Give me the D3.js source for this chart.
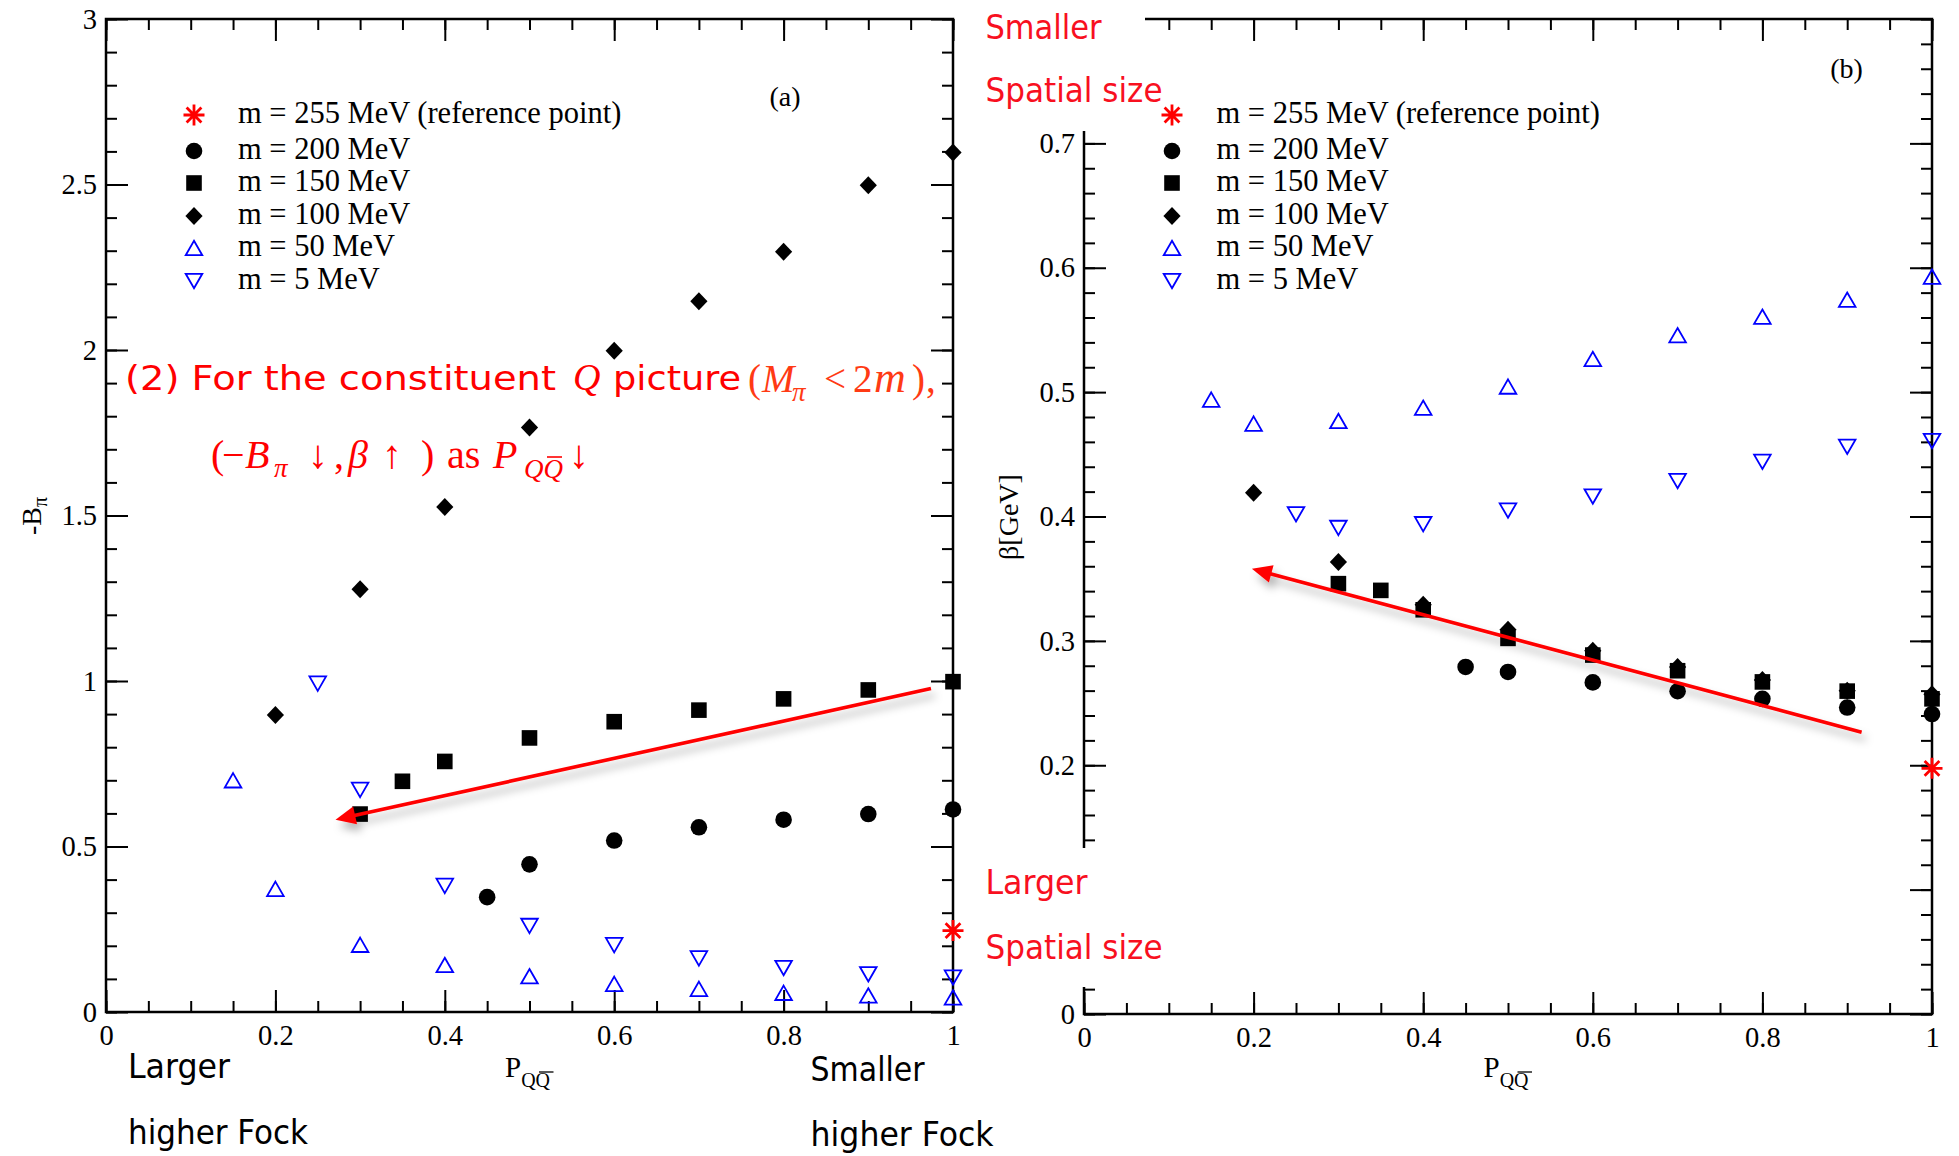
<!DOCTYPE html>
<html>
<head>
<meta charset="utf-8">
<script src="https://cdn.jsdelivr.net/npm/d3@7"></script>
<style>
  body { margin: 0; background: #fff; }
  svg { display: block; }
</style>
</head>
<body>
<script>
// ---- data ----
// x values (P_QQbar) are shared by both panels
var refP  = [1.0];
var m200P = [0.45, 0.5, 0.6, 0.7, 0.8, 0.9, 1.0];
var m150P = [0.3, 0.35, 0.4, 0.5, 0.6, 0.7, 0.8, 0.9, 1.0];
var m100P = [0.2, 0.3, 0.4, 0.5, 0.6, 0.7, 0.8, 0.9, 1.0];
var m50P  = [0.15, 0.2, 0.3, 0.4, 0.5, 0.6, 0.7, 0.8, 0.9, 1.0];
var m5P   = [0.25, 0.3, 0.4, 0.5, 0.6, 0.7, 0.8, 0.9, 1.0];

// panel (a): -B_pi
var refB  = [0.246];
var m200B = [0.347, 0.446, 0.518, 0.558, 0.581, 0.598, 0.612];
var m150B = [0.598, 0.697, 0.757, 0.828, 0.877, 0.912, 0.946, 0.973, 0.998];
var m100B = [0.897, 1.277, 1.526, 1.766, 1.998, 2.147, 2.297, 2.498, 2.597];
var m50B  = [0.70, 0.372, 0.203, 0.142, 0.108, 0.085, 0.07, 0.058, 0.05, 0.044];
var m5B   = [0.992, 0.671, 0.381, 0.26, 0.202, 0.162, 0.133, 0.114, 0.104];

// panel (b): beta [GeV]
var refBeta  = [0.1975];
var m200Beta = [0.279, 0.275, 0.2666, 0.2595, 0.2534, 0.2464, 0.2412];
var m150Beta = [0.346, 0.3406, 0.325, 0.302, 0.2886, 0.276, 0.267, 0.2596, 0.2534];
var m100Beta = [0.419, 0.3635, 0.329, 0.309, 0.292, 0.279, 0.2685, 0.26, 0.257];
var m50Beta  = [0.494, 0.4747, 0.4768, 0.4875, 0.5045, 0.5267, 0.5458, 0.5607, 0.5743, 0.5928];
var m5Beta   = [0.4018, 0.3908, 0.3938, 0.4048, 0.4161, 0.4285, 0.444, 0.456, 0.4607];

var seriesNames  = ["m = 255 MeV (reference point)", "m = 200 MeV", "m = 150 MeV",
                    "m = 100 MeV", "m = 50 MeV", "m = 5 MeV"];
var seriesShapes = ["star", "circle", "square", "diamond", "triUp", "triDown"];

// ticks
var xMajorTicks = [0, 0.2, 0.4, 0.6, 0.8, 1];
var aYTicks = [0, 0.5, 1, 1.5, 2, 2.5, 3];
var bYTicks = [0, 0.1, 0.2, 0.3, 0.4, 0.5, 0.6, 0.7, 0.8];
var bYLabels = [0, 0.2, 0.3, 0.4, 0.5, 0.6, 0.7];   // 0.1 and 0.8 sit under the label boxes

// ---- drawing ----
var W = 1959, H = 1156;
var SERIF = "'Liberation Serif', 'Times New Roman', serif";
var NARROW = "'Liberation Sans Narrow', 'DejaVu Sans Condensed', 'Liberation Sans', sans-serif";
var RED = "#ff0000", BLUE = "#0000ff";

var svg = d3.select("body").append("svg").attr("width", W).attr("height", H);

var shadow = svg.append("defs").append("filter").attr("id", "shadow")
  .attr("x", "-20%").attr("y", "-60%").attr("width", "140%").attr("height", "220%");
shadow.append("feDropShadow").attr("dx", 4).attr("dy", 7).attr("stdDeviation", 4)
  .attr("flood-color", "#000").attr("flood-opacity", 0.3);

function shapePath(s) {
  switch (s) {
    case "star": return "M-10.5,0H10.5M0,-10.5V10.5M-7.4,-7.4L7.4,7.4M-7.4,7.4L7.4,-7.4";
    case "circle": return "M8.3,0A8.3,8.3 0 1,1 -8.3,0A8.3,8.3 0 1,1 8.3,0Z";
    case "square": return "M-7.8,-7.8H7.8V7.8H-7.8Z";
    case "diamond": return "M0,-9L8.6,0L0,9L-8.6,0Z";
    case "triUp": return "M0,-7.2L8.3,7.2L-8.3,7.2Z";
    case "triDown": return "M0,7.2L8.3,-7.2L-8.3,-7.2Z";
  }
}
function styleShape(sel, s) {
  if (s === "star") sel.attr("fill", "none").attr("stroke", RED).attr("stroke-width", 2.8);
  else if (s === "triUp" || s === "triDown") sel.attr("fill", "none").attr("stroke", BLUE).attr("stroke-width", 1.8);
  else sel.attr("fill", "#000").attr("stroke", "none");
}

function fmt(d) { return String(+d.toFixed(2)); }

function drawAxes(g, x, y, xMinorStep, yMajor, yMinorStep, yLabelVals) {
  var left = x.range()[0], right = x.range()[1];
  var bottom = y.range()[0], top = y.range()[1];
  var yMax = y.domain()[1];
  var xMinor = d3.range(0, 1.0001, xMinorStep);
  var yMinor = d3.range(0, yMax + 1e-6, yMinorStep);

  function ax(axis, tx, ty, vals, size, labels, pad) {
    axis.tickValues(vals).tickSize(size).tickPadding(pad || 0)
      .tickFormat(labels ? function(d) { return labels.indexOf(d) >= 0 ? fmt(d) : ""; } : "");
    var gg = g.append("g").attr("transform", "translate(" + tx + "," + ty + ")").call(axis);
    gg.select(".domain").remove();
    gg.selectAll("line").attr("stroke", "#000").attr("stroke-width", 2);
    gg.selectAll("text").attr("font-family", SERIF).attr("font-size", 28.5).attr("fill", "#000");
    gg.selectAll("text").filter(function() { return this.textContent === ""; }).remove();
  }
  ax(d3.axisBottom(x), 0, bottom, xMinor, -11);
  ax(d3.axisBottom(x), 0, bottom, xMajorTicks, -22, xMajorTicks, 13);
  ax(d3.axisTop(x), 0, top, xMinor, -11);
  ax(d3.axisTop(x), 0, top, xMajorTicks, -22);
  ax(d3.axisLeft(y), left, 0, yMinor, -11);
  ax(d3.axisLeft(y), left, 0, yMajor, -22, yLabelVals, 9);
  ax(d3.axisRight(y), right, 0, yMinor, -11);
  ax(d3.axisRight(y), right, 0, yMajor, -22);

  g.append("rect").attr("x", left).attr("y", top)
    .attr("width", right - left).attr("height", bottom - top)
    .attr("fill", "none").attr("stroke", "#000").attr("stroke-width", 2.5);
}

function drawSeries(g, x, y, xs, ys, shape) {
  var pts = d3.zip(xs, ys);
  var sel = g.append("g").selectAll("path").data(pts).join("path")
    .attr("transform", function(d) { return "translate(" + x(d[0]) + "," + y(d[1]) + ")"; })
    .attr("d", shapePath(shape));
  styleShape(sel, shape);
}

var legendRows = [123, 159, 191, 224, 256, 289];
function drawLegend(g, mx, tx) {
  seriesNames.forEach(function(name, i) {
    var base = legendRows[i];
    var m = g.append("path").attr("transform", "translate(" + mx + "," + (base - 8) + ")")
      .attr("d", shapePath(seriesShapes[i]));
    styleShape(m, seriesShapes[i]);
    g.append("text").attr("x", tx).attr("y", base)
      .attr("font-family", SERIF).attr("font-size", 30.5).attr("fill", "#000").text(name);
  });
}

function drawArrow(g, p0, p1) {
  var dx = p1[0] - p0[0], dy = p1[1] - p0[1];
  var L = Math.sqrt(dx * dx + dy * dy), ux = dx / L, uy = dy / L;
  var hl = 20, hw = 9;
  var bx = p1[0] - ux * hl, by = p1[1] - uy * hl;
  var ag = g.append("g").attr("filter", "url(#shadow)");
  ag.append("line").attr("x1", p0[0]).attr("y1", p0[1]).attr("x2", bx + ux * 2).attr("y2", by + uy * 2)
    .attr("stroke", RED).attr("stroke-width", 3.6);
  ag.append("path")
    .attr("d", "M" + p1[0] + "," + p1[1] + "L" + (bx - uy * hw) + "," + (by + ux * hw) +
               "L" + (bx + uy * hw) + "," + (by - ux * hw) + "Z")
    .attr("fill", RED);
}

function xTitle(g, cx, by) {
  var x0 = cx - 24.5;
  var t = g.append("text").attr("x", x0).attr("y", by)
    .attr("font-family", SERIF).attr("font-size", 29).attr("fill", "#000");
  t.append("tspan").text("P");
  t.append("tspan").attr("font-size", 20).attr("dy", 10).text("QQ");
  g.append("line").attr("x1", x0 + 34).attr("x2", x0 + 48.5)
    .attr("y1", by - 5).attr("y2", by - 5).attr("stroke", "#000").attr("stroke-width", 1.3);
}

// ---- panel (a) ----
var xa = d3.scaleLinear().domain([0, 1]).range([106, 953]);
var ya = d3.scaleLinear().domain([0, 3]).range([1012, 19]);
var ga = svg.append("g");
drawAxes(ga, xa, ya, 0.05, aYTicks, 0.1, aYTicks);

var aY = [refB, m200B, m150B, m100B, m50B, m5B];
var allP = [refP, m200P, m150P, m100P, m50P, m5P];
// draw in an order that keeps the reference star on top
[4, 5, 3, 2, 1, 0].forEach(function(i) { drawSeries(ga, xa, ya, allP[i], aY[i], seriesShapes[i]); });
drawLegend(ga, 194, 238);
ga.append("text").attr("x", 785).attr("y", 106).attr("text-anchor", "middle")
  .attr("font-family", SERIF).attr("font-size", 28).text("(a)");
drawArrow(ga, [xa(0.974), ya(0.977)], [xa(0.271), ya(0.581)]);
xTitle(ga, 529.5, 1077);
var yta = ga.append("text").attr("transform", "translate(41,516) rotate(-90)").attr("text-anchor", "middle")
  .attr("font-family", SERIF).attr("font-size", 28).attr("fill", "#000");
yta.append("tspan").text("-B");
yta.append("tspan").attr("font-size", 20).attr("dy", 6).text("\u03c0");

// ---- panel (b) ----
var xb = d3.scaleLinear().domain([0, 1]).range([1084, 1932]);
var yb = d3.scaleLinear().domain([0, 0.8]).range([1014, 19]);
var gb = svg.append("g");
drawAxes(gb, xb, yb, 0.05, bYTicks, 0.02, bYLabels);
var bY = [refBeta, m200Beta, m150Beta, m100Beta, m50Beta, m5Beta];
[4, 5, 3, 2, 1, 0].forEach(function(i) { drawSeries(gb, xb, yb, allP[i], bY[i], seriesShapes[i]); });
drawLegend(gb, 1172, 1216.5);
gb.append("text").attr("x", 1846.5).attr("y", 78).attr("text-anchor", "middle")
  .attr("font-family", SERIF).attr("font-size", 28).text("(b)");
drawArrow(gb, [xb(0.917), yb(0.2266)], [xb(0.198), yb(0.358)]);
xTitle(gb, 1508, 1077);
gb.append("text").attr("transform", "translate(1018,517) rotate(-90)").attr("text-anchor", "middle")
  .attr("font-family", SERIF).attr("font-size", 28).attr("fill", "#000").text("\u03b2[GeV]");

// white label boxes that sit over panel (b)'s left edge
svg.append("rect").attr("x", 975).attr("y", 0).attr("width", 170).attr("height", 131).attr("fill", "#fff");
svg.append("rect").attr("x", 975).attr("y", 848).attr("width", 195).attr("height", 139).attr("fill", "#fff");

// ---- narrow sans labels ----
function narrow(x, y, str, w, color) {
  svg.append("text").attr("x", x).attr("y", y)
    .attr("font-family", NARROW).attr("font-size", 34).attr("fill", color)
    .attr("textLength", w).attr("lengthAdjust", "spacingAndGlyphs").text(str);
}
narrow(128, 1078, "Larger", 102, "#000");
narrow(128, 1144, "higher Fock", 180, "#000");
narrow(810.6, 1081, "Smaller", 114, "#000");
narrow(810.6, 1146, "higher Fock", 183, "#000");
var RED2 = "#f8101f";
narrow(985.5, 39, "Smaller", 116, RED2);
narrow(985.5, 102, "Spatial size", 177, RED2);
narrow(985.5, 894, "Larger", 102, RED2);
narrow(985.5, 959, "Spatial size", 177, RED2);

// ---- annotation in panel (a) ----
narrow(125, 390, "(2) For the constituent", 431, RED);
svg.append("text").attr("x", 573).attr("y", 390).attr("font-family", SERIF).attr("font-style", "italic")
  .attr("font-size", 38).attr("fill", RED).text("Q");
narrow(613, 390, "picture", 128, RED);

var ORANGE = "#ff3a14";
var mt = svg.append("text").attr("y", 392).attr("font-family", SERIF).attr("font-size", 39).attr("fill", ORANGE);
mt.append("tspan").attr("x", 748).text("(");
mt.append("tspan").attr("x", 762).attr("font-style", "italic").text("M");
mt.append("tspan").attr("x", 792).attr("dy", 9).attr("font-size", 27).attr("font-style", "italic").text("\u03c0");
mt.append("tspan").attr("x", 824).attr("dy", -9).text("<");
mt.append("tspan").attr("x", 853).text("2");
mt.append("tspan").attr("x", 874).attr("font-style", "italic").attr("font-size", 44).text("m");
mt.append("tspan").attr("x", 912).text(")");
mt.append("tspan").attr("x", 926).text(",");

var l2 = svg.append("text").attr("y", 468).attr("font-family", SERIF).attr("font-size", 40).attr("fill", RED);
l2.append("tspan").attr("x", 211).text("(");
l2.append("tspan").attr("x", 222).text("\u2212");
l2.append("tspan").attr("x", 245).attr("font-style", "italic").text("B");
l2.append("tspan").attr("x", 274).attr("dy", 9).attr("font-size", 27).attr("font-style", "italic").text("\u03c0");
l2.append("tspan").attr("x", 308).attr("dy", -9).text("\u2193");
l2.append("tspan").attr("x", 334).text(",");
l2.append("tspan").attr("x", 348).attr("font-style", "italic").text("\u03b2");
l2.append("tspan").attr("x", 382).text("\u2191");
l2.append("tspan").attr("x", 421).text(")");
l2.append("tspan").attr("x", 447).text("as");
l2.append("tspan").attr("x", 493).attr("font-style", "italic").text("P");
l2.append("tspan").attr("x", 524).attr("dy", 10).attr("font-size", 27).attr("font-style", "italic").text("QQ");
l2.append("tspan").attr("x", 569).attr("dy", -10).text("\u2193");
svg.append("line").attr("x1", 547).attr("x2", 562).attr("y1", 457).attr("y2", 457)
  .attr("stroke", RED).attr("stroke-width", 1.6);
</script>
</body>
</html>
